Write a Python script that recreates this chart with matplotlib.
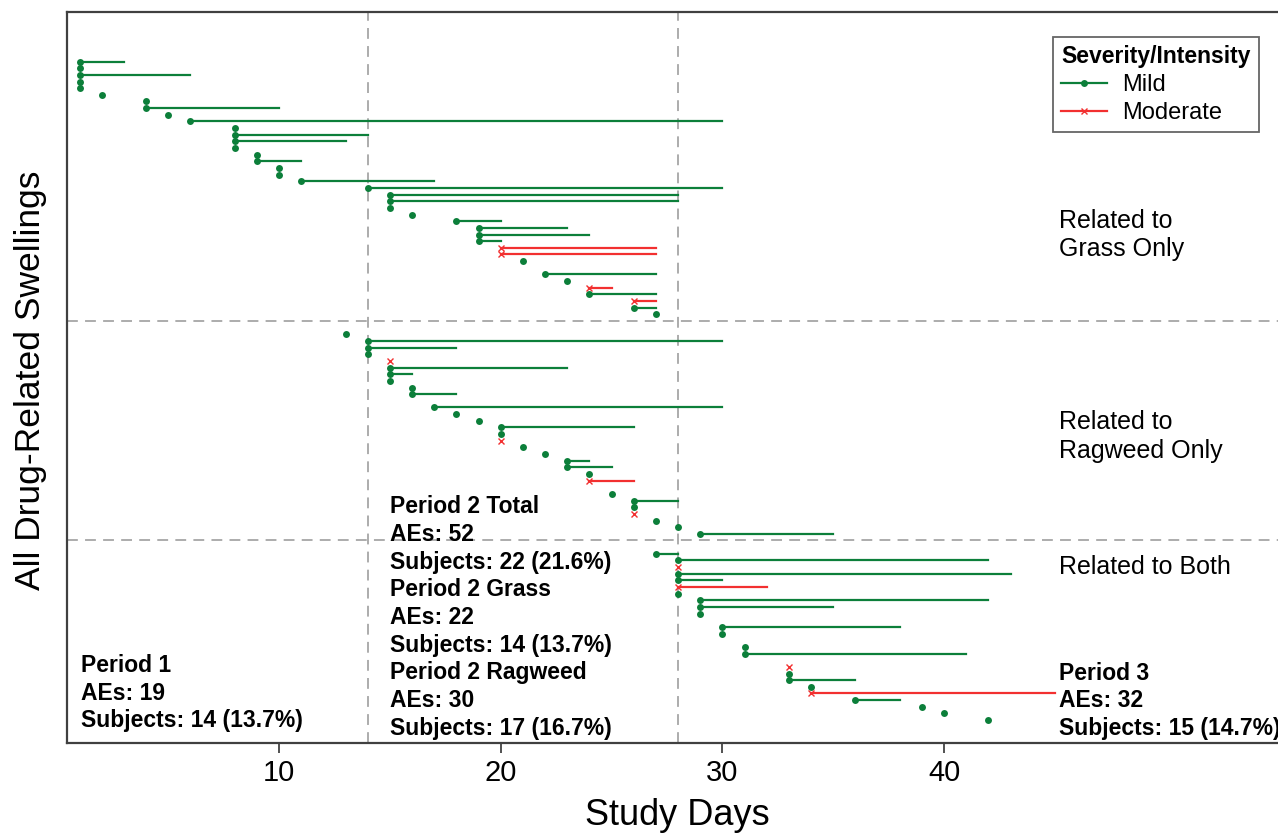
import matplotlib
matplotlib.use("Agg")
import matplotlib.pyplot as plt
from matplotlib.lines import Line2D

plt.rcParams["font.family"] = ["Liberation Sans", "DejaVu Sans"]

GREEN = "#0c7f3a"
RED = "#f23030"
GRAY = "#a6a6a6"

# one entry per row, top to bottom; None = empty row
# (start day, end day or None, severity)
grass_rows = [
    (1, 3, "Mild"), (1, None, "Mild"), (1, 6, "Mild"), (1, None, "Mild"), (1, None, "Mild"),
    (2, None, "Mild"), (4, None, "Mild"), (4, 10, "Mild"), (5, None, "Mild"), (6, 30, "Mild"),
    (8, None, "Mild"), (8, 14, "Mild"), (8, 13, "Mild"), (8, None, "Mild"), (9, None, "Mild"),
    (9, 11, "Mild"), (10, None, "Mild"), (10, None, "Mild"), (11, 17, "Mild"), (14, 30, "Mild"),
    (15, 28, "Mild"), (15, 28, "Mild"), (15, None, "Mild"), (16, None, "Mild"), (18, 20, "Mild"),
    (19, 23, "Mild"), (19, 24, "Mild"), (19, 20, "Mild"), (20, 27, "Moderate"), (20, 27, "Moderate"),
    (21, None, "Mild"), None, (22, 27, "Mild"), (23, None, "Mild"), (24, 25, "Moderate"),
    (24, 27, "Mild"), (26, 27, "Moderate"), (26, 27, "Mild"), (27, None, "Mild"),
]
ragweed_rows = [
    (13, None, "Mild"), (14, 30, "Mild"), (14, 18, "Mild"), (14, None, "Mild"), (15, None, "Moderate"),
    (15, 23, "Mild"), (15, 16, "Mild"), (15, None, "Mild"), (16, None, "Mild"), (16, 18, "Mild"),
    None, (17, 30, "Mild"), (18, None, "Mild"), (19, None, "Mild"), (20, 26, "Mild"),
    (20, None, "Mild"), (20, None, "Moderate"), (21, None, "Mild"), (22, None, "Mild"), (23, 24, "Mild"),
    (23, 25, "Mild"), (24, None, "Mild"), (24, 26, "Moderate"), None, (25, None, "Mild"),
    (26, 28, "Mild"), (26, None, "Mild"), (26, None, "Moderate"), (27, None, "Mild"), (28, None, "Mild"),
    (29, 35, "Mild"),
]
both_rows = [
    (27, 28, "Mild"), (28, 42, "Mild"), (28, None, "Moderate"), (28, 43, "Mild"), (28, 30, "Mild"),
    (28, 32, "Moderate"), (28, None, "Mild"), (29, 42, "Mild"), (29, 35, "Mild"), (29, None, "Mild"),
    None, (30, 38, "Mild"), (30, None, "Mild"), None, (31, None, "Mild"),
    (31, 41, "Mild"), None, (33, None, "Moderate"), (33, None, "Mild"), (33, 36, "Mild"),
    (34, None, "Mild"), (34, 45, "Moderate"), (36, 38, "Mild"), (39, None, "Mild"), (40, None, "Mild"),
    (42, None, "Mild"),
]
group_labels = ["Related to\nGrass Only", "Related to\nRagweed Only", "Related to Both"]
period_days = [14, 28]
xticks = [10, 20, 30, 40]

period1_txt = "Period 1\nAEs: 19\nSubjects: 14 (13.7%)"
period2_txt = ("Period 2 Total\nAEs: 52\nSubjects: 22 (21.6%)\n"
               "Period 2 Grass\nAEs: 22\nSubjects: 14 (13.7%)\n"
               "Period 2 Ragweed\nAEs: 30\nSubjects: 17 (16.7%)")
period3_txt = "Period 3\nAEs: 32\nSubjects: 15 (14.7%)"

STYLE = {
    "Mild": dict(color=GREEN, marker="o", ms=5.0, mew=0),
    "Moderate": dict(color=RED, marker="x", ms=4.5, mew=1.0),
}


def draw_group(ax, rows, y0):
    for i, row in enumerate(rows):
        if row is None:
            continue
        start, end, sev = row
        st = STYLE[sev]
        y = y0 + i
        if end is not None:
            ax.plot([start, end], [y, y], color=st["color"], lw=1.6, zorder=3)
        ax.plot([start], [y], linestyle="none", marker=st["marker"], color=st["color"],
                ms=st["ms"], mew=st["mew"], zorder=4)
    return y0 + len(rows)


fig = plt.figure(figsize=(12.78, 8.36), dpi=100)
ax = fig.add_axes([0.0527, 0.1116, 0.9636, 0.8744])

y = 0
separators = []
for rows in [grass_rows, ragweed_rows, both_rows]:
    y = draw_group(ax, rows, y)
    separators.append(y)
    y += 2
separators = separators[:-1]

for s in separators:
    ax.axhline(s, color=GRAY, lw=1.3, ls=(0, (6, 4)), zorder=1)
for d in period_days:
    ax.axvline(d, color=GRAY, lw=1.3, ls=(0, (6, 4)), zorder=1)

ax.set_xlim(0.45, 56)
ax.set_ylim(102.4, -7.5)
ax.set_yticks([])
ax.set_xticks(xticks)
ax.tick_params(axis="x", labelsize=21, length=7, width=1.2, color="#333333", pad=5)
for sp in ax.spines.values():
    sp.set_color("#404040")
    sp.set_linewidth(1.6)

fig.text(0.0235, 0.545, "All Drug-Related Swellings", rotation=90, fontsize=25.5,
         ha="center", va="center")
fig.text(0.53, 0.025, "Study Days", fontsize=26, ha="center", va="center")

# group labels
fig.text(0.829, 0.719, group_labels[0], fontsize=18, ha="left", va="center", linespacing=1.25)
fig.text(0.829, 0.478, group_labels[1], fontsize=18, ha="left", va="center", linespacing=1.25)
fig.text(0.829, 0.322, group_labels[2], fontsize=18, ha="left", va="center")

fig.text(0.063, 0.124, period1_txt, fontsize=16.5, fontweight="bold", ha="left", va="bottom",
         linespacing=1.26)
fig.text(0.305, 0.115, period2_txt, fontsize=16.5, fontweight="bold", ha="left", va="bottom",
         linespacing=1.26)
fig.text(0.829, 0.115, period3_txt, fontsize=16.5, fontweight="bold", ha="left", va="bottom",
         linespacing=1.26)

handles = [
    Line2D([], [], color=GREEN, lw=1.6, marker="o", ms=5, mew=0),
    Line2D([], [], color=RED, lw=1.6, marker="x", ms=4, mew=1.0),
]
leg = fig.legend(handles, ["Mild", "Moderate"], title="Severity/Intensity",
                 loc="upper right", bbox_to_anchor=(0.985, 0.956), fontsize=17,
                 title_fontproperties={"weight": "bold", "size": 16.5},
                 frameon=True, fancybox=False, handlelength=1.95, borderpad=0.35,
                 labelspacing=0.25, handletextpad=0.65, alignment="left",
                 borderaxespad=0)
leg.get_frame().set_edgecolor("#404040")
leg.get_frame().set_linewidth(1.3)

fig.savefig("out.png", dpi=100)
